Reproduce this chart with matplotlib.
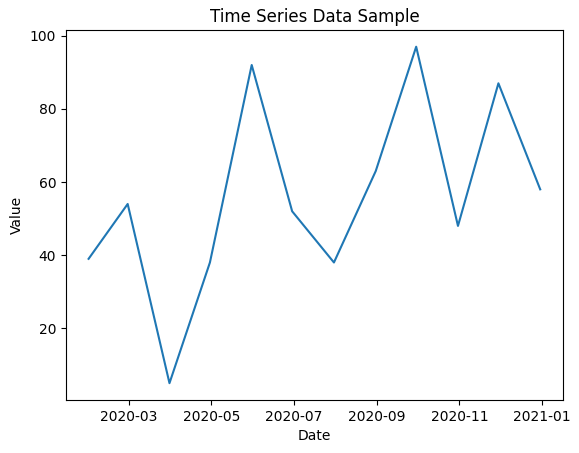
import matplotlib
matplotlib.use('Agg')
import matplotlib.pyplot as plt
import pandas as pd

# month-end dates for 2020
dates = pd.date_range('2020-01-31', periods=12, freq='ME')
values = [39, 54, 5, 38, 92, 52, 38, 63, 97, 48, 87, 58]

fig, ax = plt.subplots(figsize=(5.79, 4.53), dpi=100)
fig.subplots_adjust(left=0.114, right=0.972, top=0.934, bottom=0.117)

ax.plot(dates, values)
ax.set_title('Time Series Data Sample')
ax.set_xlabel('Date')
ax.set_ylabel('Value')

fig.savefig('out.png', dpi=100)
